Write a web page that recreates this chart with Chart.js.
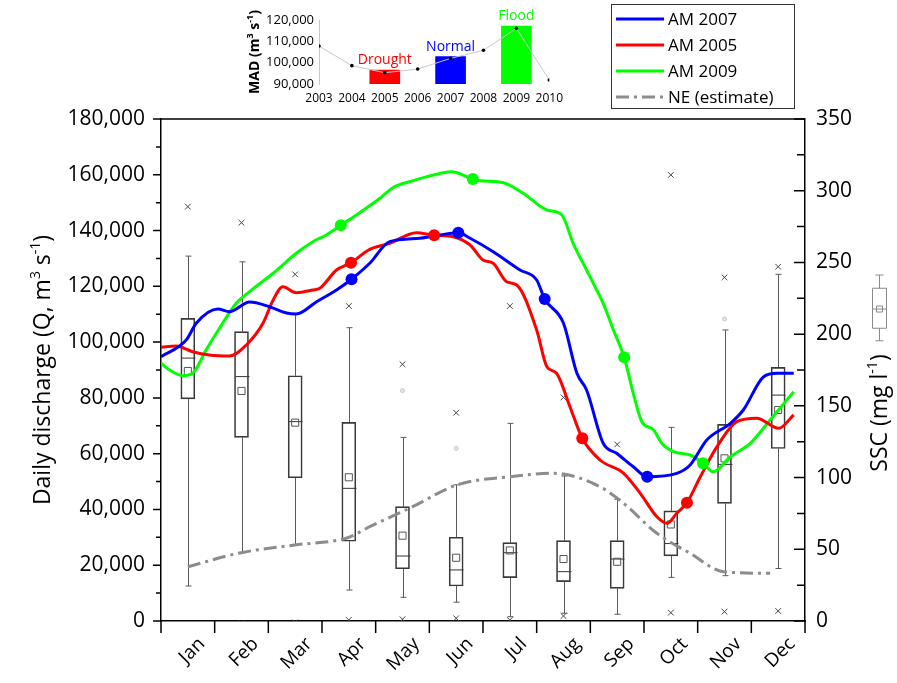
<!DOCTYPE html>
<html>
<head>
<meta charset="utf-8">
<title>Daily discharge and SSC</title>
<script src="https://cdn.jsdelivr.net/npm/chart.js@4.4.1/dist/chart.umd.min.js"></script>
<style>
    html, body { margin: 0; padding: 0; background: #fff; }
    #wrap { position: relative; width: 897px; height: 683px; overflow: hidden; }
    #main { position: absolute; left: 0; top: 0; }
    #inset { position: absolute; left: 240px; top: 0; }
</style>
</head>
<body>
<div id="wrap">
    <canvas id="main" width="897" height="683"></canvas>
    <canvas id="inset" width="330" height="112"></canvas>
</div>
<script>
const MONTHS = ['Jan', 'Feb', 'Mar', 'Apr', 'May', 'Jun', 'Jul', 'Aug', 'Sep', 'Oct', 'Nov', 'Dec'];

// Daily discharge curves: [position in months (0 = 1 Jan, 12 = 31 Dec), Q in m3/s]
const am2007 = [
    [0, 94770], [0.47, 100760], [0.66, 106860], [1.06, 111880], [1.28, 110910], [1.65, 114390],
    [2.02, 112700], [2.34, 110440], [2.52, 110080], [2.9, 114490], [3.27, 118690], [3.55, 122530],
    [3.89, 128260], [4.26, 136010], [4.82, 137230], [5.54, 139230], [5.76, 137230], [6.19, 132420],
    [6.69, 125860], [7.0, 122270], [7.15, 115460], [7.5, 106750], [7.75, 88820], [7.93, 82840],
    [8.24, 63720], [8.49, 60130], [8.8, 55330], [9.06, 51740], [9.61, 52960], [9.86, 55940],
    [10.17, 64900], [10.61, 70890], [10.85, 75660], [11.23, 87600], [11.48, 88820], [11.79, 88820]
];
const am2005 = [
    [0, 98140], [0.28, 98610], [0.59, 96560], [0.9, 95380], [1.28, 95020], [1.59, 98970],
    [1.9, 106750], [2.09, 115100], [2.27, 119870], [2.52, 117720], [2.83, 118690], [2.96, 119300],
    [3.27, 125860], [3.54, 128480], [3.89, 133280], [4.26, 135430], [4.76, 139230], [5.09, 138300],
    [5.44, 137800], [5.76, 134820], [6.0, 129440], [6.19, 128260], [6.44, 121660], [6.63, 120480],
    [7.0, 104340], [7.19, 91190], [7.37, 88820], [7.62, 76840], [7.85, 65510], [8.18, 57730],
    [8.62, 52960], [8.93, 45790], [9.24, 37400], [9.43, 35030], [9.61, 38620], [9.8, 42420],
    [10.05, 51740], [10.36, 62500], [10.73, 71460], [11.1, 72680], [11.51, 69100], [11.79, 73870]
];
const am2009 = [
    [0, 92400], [0.16, 90000], [0.41, 87960], [0.59, 88820], [0.84, 97170], [1.09, 104950],
    [1.4, 113920], [1.65, 118080], [2.09, 124680], [2.52, 131850], [2.83, 136010], [3.08, 138410],
    [3.35, 141890], [3.64, 145580], [4.08, 151570], [4.32, 155370], [4.7, 157880], [5.13, 160170],
    [5.41, 161110], [5.81, 158490], [5.94, 157880], [6.38, 157160], [6.75, 153360], [7.19, 147370],
    [7.47, 145580], [7.68, 135430], [7.93, 125860], [8.18, 116290], [8.24, 113920], [8.43, 104340],
    [8.63, 94560], [8.8, 81650], [8.96, 71460], [9.18, 68490], [9.33, 63720], [9.55, 60710],
    [9.86, 59520], [10.1, 56550], [10.29, 53530], [10.61, 58910], [10.98, 63720], [11.35, 72070],
    [11.79, 82220]
];
const neEstimate = [
    [0.5, 19470], [1.49, 24490], [2.49, 27250], [3.48, 29870], [3.89, 33810], [4.69, 40980],
    [5.51, 48770], [6.5, 51740], [7.31, 52960], [8.18, 48160], [8.62, 42200], [9.24, 31450],
    [9.86, 24270], [10.48, 17680], [11.35, 17100]
];

// highlighted days on each curve (month positions)
const am2007Marks = [3.55, 5.54, 7.15, 9.06];
const am2005Marks = [3.54, 5.09, 7.85, 9.8];
const am2009Marks = [3.35, 5.81, 8.63, 10.1];

// Monthly SSC statistics, mg/l
const sscWhiskerHigh = [254.4, 250.4, 214.0, 204.5, 128.0, 94.9, 137.8, 101.1, 84.8, 135.0, 202.9, 241.7];
const sscQ3 = [211.0, 201.7, 171.0, 138.5, 79.7, 58.4, 54.6, 56.0, 56.0, 76.8, 137.1, 176.8];
const sscMedian = [183.3, 170.4, 139.0, 92.5, 45.3, 35.6, 47.6, 34.4, 43.2, 54.0, 109.2, 157.5];
const sscMean = [174.3, 160.4, 138.3, 100.2, 59.5, 44.1, 49.2, 43.2, 41.3, 67.3, 113.4, 147.1];
const sscQ1 = [154.9, 128.0, 99.9, 55.6, 36.4, 24.4, 30.2, 27.4, 22.8, 45.4, 82.0, 120.3];
const sscWhiskerLow = [24.4, 47.6, 52.9, 21.6, 16.5, 13.1, 3.0, 5.4, 4.7, 30.4, 31.6, 36.6];
const sscMax = [288.9, 277.7, 241.7, 219.6, 179.0, 145.2, 219.6, 155.9, 123.1, 311.0, 239.6, 247.0];
const sscMin = [-2.0, -1.5, -1.0, 0.7, 1.2, 1.9, 0.7, 3.5, -2.5, 5.8, 6.5, 7.0];
const sscOutlier = [null, null, null, null, 160.6, 120.4, null, null, null, null, 210.6, null];

// all-year SSC box (drawn beside the right axis)
const sscYear = { high: 241.2, q3: 232.0, median: 217.5, mean: 217.5, q1: 204.1, low: 195.4 };

// Mean annual discharge inset
const madYears = [2003, 2004, 2005, 2006, 2007, 2008, 2009, 2010];
const madValues = [107800, 98600, 95300, 97000, 102000, 105800, 116100, 91900];
const barYears = [2005, 2007, 2009];
const barValues = [96500, 102800, 117200];
const barLabels = ['Drought', 'Normal', 'Flood'];
const barColors = ['#ff0000', '#0000ff', '#00ff00'];

const FONT = '"Open Sans", sans-serif';
Chart.defaults.font.family = FONT;
Chart.defaults.color = '#000';

const toPts = arr => arr.map(([x, y]) => ({ x, y }));
const pickPts = (arr, xs) => arr.filter(p => xs.includes(p[0])).map(([x, y]) => ({ x, y }));

// text with superscript parts, centred on (0,0) of the current transform
function drawRich(ctx, parts, size, weight) {
    const supSize = Math.round(size * 0.62);
    let total = 0;
    parts.forEach(p => {
        ctx.font = `${weight || ''} ${p.sup ? supSize : size}px ${FONT}`;
        total += ctx.measureText(p.t).width;
    });
    let x = -total / 2;
    ctx.textAlign = 'left';
    ctx.textBaseline = 'alphabetic';
    parts.forEach(p => {
        ctx.font = `${weight || ''} ${p.sup ? supSize : size}px ${FONT}`;
        ctx.fillText(p.t, x, p.sup ? size * 0.35 - size * 0.45 : size * 0.35);
        x += ctx.measureText(p.t).width;
    });
}

const decor = {
    id: 'decor',
    beforeDatasetsDraw(chart) {
        const ctx = chart.ctx;
        const xs = chart.scales.x, ys = chart.scales.y1;
        ctx.save();
        ctx.lineWidth = 1;
        MONTHS.forEach((m, i) => {
            const cx = Math.round(xs.getPixelForValue(i)) + 0.5;
            const hi = ys.getPixelForValue(sscWhiskerHigh[i]);
            const q3 = ys.getPixelForValue(sscQ3[i]);
            const q1 = ys.getPixelForValue(sscQ1[i]);
            const lo = ys.getPixelForValue(sscWhiskerLow[i]);
            const med = ys.getPixelForValue(sscMedian[i]);
            ctx.strokeStyle = '#5a5a5a';
            ctx.beginPath();
            ctx.moveTo(cx, hi); ctx.lineTo(cx, q3);
            ctx.moveTo(cx, q1); ctx.lineTo(cx, lo);
            ctx.moveTo(cx - 3, hi); ctx.lineTo(cx + 3, hi);
            ctx.moveTo(cx - 3, lo); ctx.lineTo(cx + 3, lo);
            ctx.stroke();
            ctx.strokeStyle = '#333';
            ctx.beginPath();
            ctx.moveTo(cx - 7, med); ctx.lineTo(cx + 7, med);
            ctx.stroke();
        });
        ctx.restore();
    },
    afterDraw(chart) {
        const ctx = chart.ctx;
        const { left, right, top, bottom } = chart.chartArea;
        const y = chart.scales.y, y1 = chart.scales.y1, xd = chart.scales.xd;
        ctx.save();
        ctx.strokeStyle = '#000';
        ctx.lineWidth = 1.5;
        ctx.beginPath();
        ctx.moveTo(left, top); ctx.lineTo(right, top);
        ctx.stroke();

        // left axis ticks, outward
        ctx.beginPath();
        for (let v = 0; v <= 180000; v += 10000) {
            const py = y.getPixelForValue(v);
            ctx.moveTo(left, py); ctx.lineTo(left - (v % 20000 === 0 ? 8 : 5), py);
        }
        // right axis ticks, inward
        for (let v = 0; v <= 350; v += 25) {
            const py = y1.getPixelForValue(v);
            ctx.moveTo(right, py); ctx.lineTo(right - (v % 50 === 0 ? 11 : 8), py);
        }
        // month boundaries along the bottom
        for (let m = 0; m <= 12; m++) {
            const px = xd.getPixelForValue(m);
            ctx.moveTo(px, bottom); ctx.lineTo(px, bottom + 12);
        }
        ctx.stroke();

        // axis titles
        ctx.fillStyle = '#000';
        ctx.save();
        ctx.translate(42, (top + bottom) / 2);
        ctx.rotate(-Math.PI / 2);
        drawRich(ctx, [{ t: 'Daily discharge (Q, m' }, { t: '3', sup: true }, { t: ' s' }, { t: '-1', sup: true }, { t: ')' }], 23);
        ctx.restore();
        ctx.save();
        ctx.translate(879, 413);
        ctx.rotate(-Math.PI / 2);
        drawRich(ctx, [{ t: 'SSC (mg l' }, { t: '-1', sup: true }, { t: ')' }], 23);
        ctx.restore();

        // all-year box
        const bx = 879.5;
        ctx.strokeStyle = '#8a8a8a';
        ctx.lineWidth = 1;
        const yy = v => y1.getPixelForValue(v);
        ctx.beginPath();
        ctx.moveTo(bx, yy(sscYear.high)); ctx.lineTo(bx, yy(sscYear.q3));
        ctx.moveTo(bx, yy(sscYear.q1)); ctx.lineTo(bx, yy(sscYear.low));
        ctx.moveTo(bx - 4, yy(sscYear.high)); ctx.lineTo(bx + 4, yy(sscYear.high));
        ctx.moveTo(bx - 4, yy(sscYear.low)); ctx.lineTo(bx + 4, yy(sscYear.low));
        ctx.moveTo(bx - 7, yy(sscYear.median)); ctx.lineTo(bx + 7, yy(sscYear.median));
        ctx.rect(bx - 7, yy(sscYear.q3), 14, yy(sscYear.q1) - yy(sscYear.q3));
        ctx.rect(bx - 3, yy(sscYear.mean) - 3, 6, 6);
        ctx.stroke();

        // legend box
        ctx.strokeStyle = '#333';
        ctx.lineWidth = 1;
        ctx.strokeRect(611.5, 4.5, 183, 104);
        ctx.font = `17px ${FONT}`;
        ctx.textAlign = 'left';
        ctx.textBaseline = 'middle';
        chart.data.datasets.filter(d => d.legend).forEach((d, i) => {
            const ly = 19 + i * 26;
            ctx.strokeStyle = d.borderColor;
            ctx.lineWidth = d.borderWidth;
            ctx.setLineDash(d.borderDash || []);
            ctx.beginPath();
            ctx.moveTo(616, ly); ctx.lineTo(664, ly);
            ctx.stroke();
            ctx.setLineDash([]);
            ctx.fillText(d.label, 668, ly + 1);
        });
        ctx.restore();
    }
};

const lineBase = { type: 'line', xAxisID: 'xd', yAxisID: 'y', pointRadius: 0, borderWidth: 3, cubicInterpolationMode: 'monotone', legend: true, order: 1 };
const markBase = { type: 'scatter', xAxisID: 'xd', yAxisID: 'y', pointRadius: 6, borderWidth: 0, order: 0 };
const boxMark = { type: 'line', xAxisID: 'x', yAxisID: 'y1', showLine: false, borderWidth: 1, order: 4 };

new Chart(document.getElementById('main'), {
    type: 'line',
    data: {
        labels: MONTHS,
        datasets: [
            { ...lineBase, label: 'AM 2007', data: toPts(am2007), borderColor: '#0000ff' },
            { ...lineBase, label: 'AM 2005', data: toPts(am2005), borderColor: '#ff0000' },
            { ...lineBase, label: 'AM 2009', data: toPts(am2009), borderColor: '#00ff00' },
            { ...lineBase, label: 'NE (estimate)', data: toPts(neEstimate), borderColor: '#8c8c8c', borderWidth: 3, borderDash: [13, 5, 3, 5], order: 3 },
            { ...markBase, data: pickPts(am2007, am2007Marks), backgroundColor: '#0000ff' },
            { ...markBase, data: pickPts(am2005, am2005Marks), backgroundColor: '#ff0000' },
            { ...markBase, data: pickPts(am2009, am2009Marks), backgroundColor: '#00ff00' },
            {
                type: 'bar', xAxisID: 'x', yAxisID: 'y1', order: 5, grouped: false,
                data: sscQ1.map((v, i) => [v, sscQ3[i]]),
                barThickness: 14, borderWidth: 1, borderColor: '#3a3a3a',
                backgroundColor: 'rgba(255,255,255,0)', borderSkipped: false
            },
            { ...boxMark, data: sscMean, pointStyle: 'rect', pointRadius: 5, borderColor: '#555', backgroundColor: 'rgba(255,255,255,0)' },
            { ...boxMark, data: sscMax, pointStyle: 'crossRot', pointRadius: 4, borderColor: '#444' },
            { ...boxMark, data: sscMin, pointStyle: 'crossRot', pointRadius: 4, borderColor: '#444' },
            { ...boxMark, data: sscOutlier, pointStyle: 'circle', pointRadius: 2, borderColor: '#c8c8c8', backgroundColor: '#e6e6e6' }
        ]
    },
    options: {
        responsive: false,
        animation: false,
        events: [],
        layout: { padding: { top: 119, left: 0, right: 0, bottom: 0 } },
        plugins: { legend: { display: false }, tooltip: { enabled: false } },
        scales: {
            x: {
                type: 'category', position: 'bottom', offset: true,
                grid: { offset: true, drawOnChartArea: false, drawTicks: false },
                border: { color: '#000', width: 1.5 },
                ticks: { font: { size: 19 }, minRotation: 45, maxRotation: 45, padding: 12, labelOffset: 14, color: '#000' },
                afterFit: s => { s.height = 62; }
            },
            xd: { type: 'linear', min: 0, max: 12, display: false },
            y: {
                position: 'left', min: 0, max: 180000,
                grid: { drawOnChartArea: false, drawTicks: false },
                border: { color: '#000', width: 1.5 },
                ticks: { stepSize: 20000, font: { size: 21 }, padding: 16, color: '#000' },
                afterFit: s => { s.width = 161; }
            },
            y1: {
                position: 'right', min: 0, max: 350,
                grid: { drawOnChartArea: false, drawTicks: false },
                border: { color: '#000', width: 1.5 },
                ticks: { stepSize: 50, font: { size: 21 }, padding: 11, color: '#000' },
                afterFit: s => { s.width = 92; }
            }
        }
    },
    plugins: [decor]
});

// labels above the inset bars and the inset's axis title
const insetText = {
    id: 'insetText',
    afterDraw(chart) {
        const ctx = chart.ctx;
        const bars = chart.getDatasetMeta(1).data;
        ctx.save();
        ctx.font = `14px ${FONT}`;
        ctx.textAlign = 'center';
        ctx.textBaseline = 'middle';
        bars.forEach((b, i) => {
            ctx.fillStyle = barColors[i];
            ctx.fillText(barLabels[i], b.x, b.y - 10);
        });
        ctx.fillStyle = '#000';
        ctx.translate(14, 52);
        ctx.rotate(-Math.PI / 2);
        drawRich(ctx, [{ t: 'MAD (m' }, { t: '3', sup: true }, { t: ' s' }, { t: '-1', sup: true }, { t: ')' }], 14, 'bold');
        ctx.restore();
    }
};

new Chart(document.getElementById('inset'), {
    type: 'bar',
    data: {
        datasets: [
            {
                type: 'line', order: 0,
                data: madYears.map((yr, i) => ({ x: yr, y: madValues[i] })),
                borderColor: '#c8c8c8', borderWidth: 1, tension: 0,
                pointRadius: 1.8, pointBackgroundColor: '#000', pointBorderWidth: 0
            },
            {
                type: 'bar', order: 1,
                data: barYears.map((yr, i) => ({ x: yr, y: barValues[i] })),
                backgroundColor: barColors, barThickness: 30
            }
        ]
    },
    options: {
        responsive: false,
        animation: false,
        events: [],
        layout: { padding: { top: 20, right: 18, left: 0, bottom: 0 } },
        plugins: { legend: { display: false }, tooltip: { enabled: false } },
        scales: {
            x: {
                type: 'linear', min: 2003, max: 2010, offset: false,
                grid: { display: false, drawTicks: false },
                border: { display: false },
                ticks: { stepSize: 1, autoSkip: false, maxRotation: 0, padding: 7, font: { size: 12 }, callback: v => String(v) },
                afterFit: s => { s.height = 28; }
            },
            y: {
                min: 90000, max: 120000,
                grid: { display: false, drawTicks: false },
                border: { color: '#c8c8c8', width: 1 },
                ticks: { stepSize: 10000, padding: 5, font: { size: 13 } },
                afterFit: s => { s.width = 79; }
            }
        }
    },
    plugins: [insetText]
});
</script>
</body>
</html>
